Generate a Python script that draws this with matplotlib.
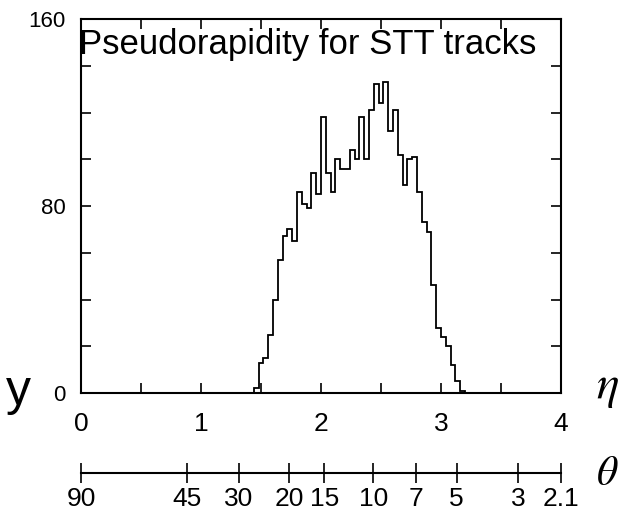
import numpy as np
import matplotlib
matplotlib.use("Agg")
import matplotlib.pyplot as plt
from matplotlib.ticker import FixedLocator, FixedFormatter

plt.rcParams['font.family'] = ['Liberation Sans', 'DejaVu Sans']
plt.rcParams['mathtext.fontset'] = 'stix'

# histogram of eta, bins of 0.04 starting at eta = 1.44
eta_start = 1.44
bin_width = 0.04
counts = [2, 13, 15, 25, 40, 57, 67, 70, 65, 86,
          81, 79, 94, 85, 118, 94, 86, 100, 96, 96,
          104, 100, 118, 100, 121, 132, 124, 133, 112, 121,
          102, 89, 100, 101, 86, 73, 69, 46, 28, 24,
          20, 12, 5, 1]
edges = eta_start + bin_width * np.arange(len(counts) + 1)

x_labels = ['0', '1', '2', '3', '4']
y_labels = ['0', '80', '160']
theta_labels = ['90', '45', '30', '20', '15', '10', '7', '5', '3', '2.1']
theta_deg = [90, 45, 30, 20, 15, 10, 7, 5, 3, 2.1]

W, H = 634, 515
fig = plt.figure(figsize=(W / 100, H / 100), dpi=100)
ax = fig.add_axes([81 / W, 1 - 393 / H, 480 / W, 374 / H])

ax.stairs(counts, edges, color='black', lw=1.3)
ax.set_xlim(0, 4)
ax.set_ylim(0, 160)

for s in ax.spines.values():
    s.set_linewidth(1.5)

# x ticks: every 0.5, labels on integers, long tick in the middle
xt = np.arange(0, 4.01, 0.5)
ax.xaxis.set_major_locator(FixedLocator(xt))
ax.xaxis.set_major_formatter(FixedFormatter([x_labels[int(v)] if v == int(v) else '' for v in xt]))
ax.xaxis.set_minor_locator(FixedLocator([2]))
yt = np.arange(0, 161, 20)
ax.yaxis.set_major_locator(FixedLocator(yt))
ax.yaxis.set_major_formatter(FixedFormatter([str(int(v)) if str(int(v)) in y_labels else '' for v in yt]))
ax.yaxis.set_minor_locator(FixedLocator([80]))

ax.tick_params(which='both', direction='in', top=True, right=True, width=1.2)
ax.tick_params(which='major', length=7)
ax.tick_params(which='minor', length=15)
ax.tick_params(axis='x', which='major', labelsize=19, pad=14)
ax.tick_params(axis='y', which='major', labelsize=16, pad=11)

ax.text(-0.005, 0.975, 'Pseudorapidity for STT tracks', transform=ax.transAxes,
        ha='left', va='top', fontsize=25)

# theta scale below
ax2 = fig.add_axes([81 / W, 1 - 488 / H, 480 / W, 30 / H])
ax2.set_xlim(0, 4)
ax2.set_ylim(-1, 1)
theta_pos = [-np.log(np.tan(np.radians(t) / 2)) for t in theta_deg]
for side in ['top', 'left', 'right']:
    ax2.spines[side].set_visible(False)
ax2.spines['bottom'].set_position(('axes', 0.5))
ax2.spines['bottom'].set_linewidth(1.5)
ax2.set_yticks([])
ax2.set_xticks(theta_pos)
ax2.set_xticklabels(theta_labels)
ax2.set_xticks(theta_pos, minor=True)
ax2.tick_params(axis='x', which='major', direction='inout', length=14, width=1.2,
                labelsize=19, pad=3)
ax2.tick_params(axis='x', which='minor', direction='in', length=15, width=1.2)
ax2.patch.set_visible(False)

fig.text(0.94, 1 - 388 / H, r'$\eta$', fontsize=34, ha='left', va='center')
fig.text(0.94, 1 - 474 / H, r'$\theta$', fontsize=30, ha='left', va='center')
fig.text(0.01, 1 - 392 / H, 'y', fontsize=36, ha='left', va='center')

fig.savefig('out.png', dpi=100)
